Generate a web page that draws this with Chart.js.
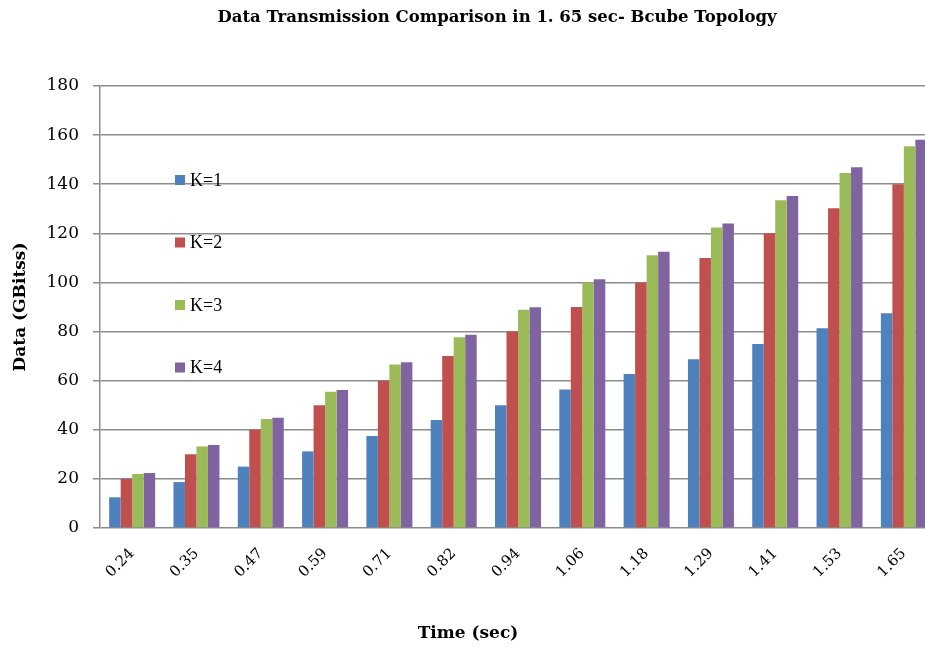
<!DOCTYPE html>
<html>
<head>
<meta charset="utf-8">
<script src="https://cdn.jsdelivr.net/npm/chart.js@4.4.1/dist/chart.umd.min.js"></script>
<style>
  html, body { margin: 0; padding: 0; background: #fff; overflow: hidden; }
  #wrap { position: relative; width: 994px; height: 647px; }
</style>
</head>
<body>
<div id="wrap"><canvas id="myChart"></canvas></div>
<script>
// time points (sec)
const times = ["0.24", "0.35", "0.47", "0.59", "0.71", "0.82", "0.94", "1.06", "1.18", "1.29", "1.41", "1.53", "1.65"];

// data in GBits, one array per K
const k1 = [12.5, 18.7, 25, 31.2, 37.5, 44, 50, 56.4, 62.7, 68.7, 74.9, 81.3, 87.5];
const k2 = [20, 30, 40, 50, 60, 70, 80, 90, 100, 110, 120, 130.2, 140];
const k3 = [22, 33.2, 44.4, 55.5, 66.6, 77.7, 88.9, 100, 111.1, 122.4, 133.5, 144.6, 155.5];
const k4 = [22.4, 33.8, 44.9, 56.2, 67.5, 78.7, 89.9, 101.3, 112.5, 124, 135.2, 146.9, 158.1];

const seriesNames = ["K=1", "K=2", "K=3", "K=4"];
const colors = ["#4f81bd", "#c0504d", "#9bbb59", "#8064a2"];

const chartTitle = "Data Transmission Comparison in 1. 65 sec- Bcube Topology";
const yTitle = "Data (GBitss)";
const xTitle = "Time (sec)";

const gridColor = "#8c8c8c";

// legend + x axis title drawn by hand, like the excel layout
const overlay = {
  id: "overlay",
  afterDraw(chart) {
    const { ctx, chartArea } = chart;
    ctx.save();
    ctx.textBaseline = "middle";
    chart.data.datasets.forEach((ds, i) => {
      const y = chartArea.top + 94 + i * 62.5;
      ctx.fillStyle = ds.backgroundColor;
      ctx.fillRect(chartArea.left + 75, y - 5, 10, 10);
      ctx.fillStyle = "#000";
      ctx.font = '18px "Liberation Serif"';
      ctx.textAlign = "left";
      ctx.fillText(ds.label, chartArea.left + 90, y + 1);
    });
    ctx.font = 'bold 17px "DejaVu Serif"';
    ctx.textAlign = "center";
    ctx.fillStyle = "#000";
    ctx.fillText(xTitle, 468, 634);
    ctx.restore();
  },
};

const data = {
  labels: times,
  datasets: [k1, k2, k3, k4].map((vals, i) => ({
    label: seriesNames[i],
    data: vals,
    backgroundColor: colors[i],
    borderWidth: 0,
    categoryPercentage: 0.715,
    barPercentage: 1.0,
  })),
};

const config = {
  type: "bar",
  data,
  options: {
    responsive: true,
    maintainAspectRatio: false,
    animation: false,
    layout: { padding: 0 },
    plugins: {
      legend: { display: false },
      tooltip: { enabled: false },
      title: {
        display: true,
        text: chartTitle,
        color: "#000",
        font: { family: "DejaVu Serif", size: 16.5, weight: "bold" },
        padding: { top: 8, bottom: 58.2 },
      },
    },
    scales: {
      x: {
        grid: { display: false, drawTicks: false },
        border: { display: false },
        ticks: {
          color: "#000",
          font: { family: "DejaVu Serif", size: 15 },
          maxRotation: 45,
          minRotation: 45,
          padding: 17,
        },
        afterFit(scale) {
          scale.height = 119;
        },
      },
      y: {
        min: 0,
        max: 180,
        ticks: {
          stepSize: 20,
          color: "#000",
          font: { family: "DejaVu Serif", size: 17 },
          padding: 14,
        },
        grid: { color: gridColor, lineWidth: 1.5, tickLength: 7 },
        border: { color: gridColor, width: 1.5 },
        title: {
          display: true,
          text: yTitle,
          color: "#000",
          font: { family: "DejaVu Serif", size: 17, weight: "bold" },
          padding: { top: 10, bottom: 0 },
        },
        afterFit(scale) {
          scale.width = 100;
        },
      },
      // empty axis on the right, only to leave room past the window edge
      y2: {
        type: "linear",
        position: "right",
        display: true,
        grid: { display: false, drawTicks: false },
        border: { display: false },
        ticks: { display: false },
        afterFit(scale) {
          scale.width = 58;
        },
      },
    },
  },
  plugins: [overlay],
};

var myChart = new Chart(document.getElementById("myChart"), config);
</script>
</body>
</html>
